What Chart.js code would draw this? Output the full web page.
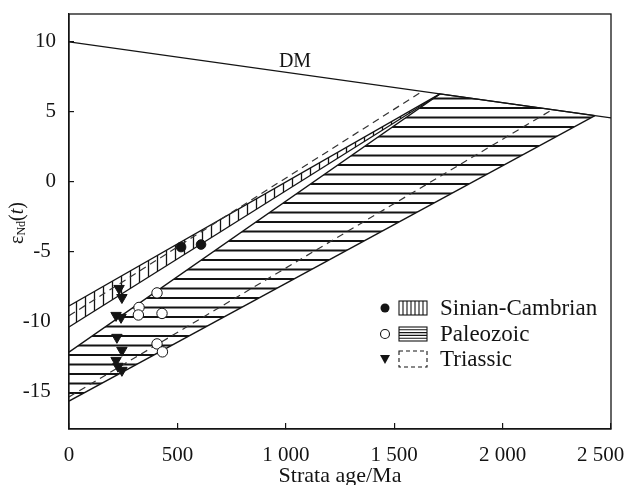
<!DOCTYPE html>
<html>
<head>
<meta charset="utf-8">
<script src="https://cdn.jsdelivr.net/npm/chart.js@4"></script>
<style>
  body { margin: 0; background: #fff; }
  canvas { display: block; }
</style>
</head>
<body>
<canvas id="ndChart" width="629" height="485"></canvas>
<script>
// Eixos (o último rótulo leva espaços para não sair da tela)
const xTicks = [0, 500, 1000, 1500, 2000, 2500];
const xTickLabels = ["0", "500", "1 000", "1 500", "2 000", "2 500    "];
const yTicks = [10, 5, 0, -5, -10, -15];
const yTickLabels = ["10", "5", "0", "-5 ", "-10 ", "-15 "];

// Linha DM
const dmAge = [0, 2500];
const dmEps = [10, 4.57];

// Faixa Sinian-Cambrian (hachura vertical)
const sinUpperAge = [0, 1711];
const sinUpperEps = [-8.9, 6.28];
const sinLowerAge = [0, 1711];
const sinLowerEps = [-10.4, 6.28];

// Faixa Paleozoic (hachura horizontal)
const paleoUpperAge = [0, 1711, 2426];
const paleoUpperEps = [-12.2, 6.28, 4.73];
const paleoLowerAge = [0, 2426];
const paleoLowerEps = [-15.7, 4.73];

// Limites Triassic (tracejado)
const triUpperAge = [0, 1629];
const triUpperEps = [-9.6, 6.46];
const triLowerAge = [0, 2230];
const triLowerEps = [-15.4, 5.16];

// Amostras
const sinPtAge = [517, 609];
const sinPtEps = [-4.68, -4.5];
const paleoPtAge = [406, 323, 320, 429, 406, 431];
const paleoPtEps = [-7.96, -9.0, -9.54, -9.43, -11.61, -12.18];
const triPtAge = [231, 244, 217, 240, 221, 244, 217, 226, 244];
const triPtEps = [-7.64, -8.29, -9.57, -9.71, -11.14, -12.07, -12.79, -13.21, -13.5];

const legendNames = ["Sinian-Cambrian", "Paleozoic", "Triassic"];

const FONT = "'Liberation Serif', 'Times New Roman', serif";
const INK = "#141414";

function pts(ages, eps) {
  return ages.map((a, i) => ({ x: a, y: eps[i] }));
}

// padrões de hachura
function hatch(vertical) {
  const c = document.createElement("canvas");
  const g = c.getContext("2d");
  if (vertical) {
    c.width = 9; c.height = 8;
    g.fillStyle = "#fff"; g.fillRect(0, 0, 9, 8);
    g.strokeStyle = INK; g.lineWidth = 1.3;
    g.beginPath(); g.moveTo(4.5, 0); g.lineTo(4.5, 8); g.stroke();
  } else {
    c.width = 8; c.height = 19;
    g.fillStyle = "#fff"; g.fillRect(0, 0, 8, 19);
    g.strokeStyle = INK; g.lineWidth = 1.9;
    g.beginPath();
    g.moveTo(0, 3.5); g.lineTo(8, 3.5);
    g.moveTo(0, 13); g.lineTo(8, 13);
    g.stroke();
  }
  return g.createPattern(c, "repeat");
}

const vPattern = hatch(true);
const hPattern = hatch(false);

function edge(data, extra) {
  return Object.assign({
    data: data,
    borderColor: INK,
    borderWidth: 1.3,
    pointRadius: 0,
    fill: false,
    tension: 0,
    order: 5
  }, extra || {});
}

// desenha legenda, rótulos e moldura
const decor = {
  id: "decor",
  afterDraw(chart) {
    const ctx = chart.ctx;
    const a = chart.chartArea;
    ctx.save();
    ctx.strokeStyle = INK;
    ctx.lineWidth = 1.3;
    ctx.strokeRect(a.left, a.top, a.right - a.left, a.bottom - a.top);

    ctx.fillStyle = INK;
    ctx.textBaseline = "middle";

    // rótulo DM
    ctx.font = "20px " + FONT;
    ctx.textAlign = "center";
    ctx.fillText("DM", 295, 62);

    // título eixo x
    ctx.font = "22px " + FONT;
    ctx.fillText("Strata age/Ma", (a.left + a.right) / 2, 476);

    // título eixo y: εNd(t)
    ctx.save();
    ctx.translate(18, 223);
    ctx.rotate(-Math.PI / 2);
    ctx.textAlign = "left";
    const big = "20px " + FONT, small = "12px " + FONT, ital = "italic 20px " + FONT;
    const parts = [["ε", big, 0], ["Nd", small, 4], ["(", big, 0], ["t", ital, 0], [")", big, 0]];
    let w = 0;
    parts.forEach(p => { ctx.font = p[1]; w += ctx.measureText(p[0]).width; });
    let x = -w / 2;
    parts.forEach(p => {
      ctx.font = p[1];
      ctx.fillText(p[0], x, p[2]);
      x += ctx.measureText(p[0]).width;
    });
    ctx.restore();

    // legenda
    const rows = [308, 334, 359];
    const mx = 385, bx = 399, bw = 28, bh = 14, tx = 440;
    ctx.font = "23px " + FONT;
    ctx.textAlign = "left";
    rows.forEach((y, i) => {
      ctx.fillStyle = INK;
      ctx.strokeStyle = INK;
      ctx.lineWidth = 1.1;
      ctx.setLineDash([]);
      if (i === 0) {
        ctx.beginPath(); ctx.arc(mx, y, 4.5, 0, Math.PI * 2); ctx.fill();
        ctx.strokeRect(bx, y - bh / 2, bw, bh);
        ctx.beginPath();
        for (let k = 1; k < 7; k++) {
          ctx.moveTo(bx + k * 4, y - bh / 2); ctx.lineTo(bx + k * 4, y + bh / 2);
        }
        ctx.stroke();
      } else if (i === 1) {
        ctx.fillStyle = "#fff";
        ctx.beginPath(); ctx.arc(mx, y, 4.5, 0, Math.PI * 2); ctx.fill(); ctx.stroke();
        ctx.strokeRect(bx, y - bh / 2, bw, bh);
        ctx.beginPath();
        for (let k = 1; k < 5; k++) {
          ctx.moveTo(bx, y - bh / 2 + k * 2.8); ctx.lineTo(bx + bw, y - bh / 2 + k * 2.8);
        }
        ctx.stroke();
      } else {
        ctx.beginPath();
        ctx.moveTo(mx - 5, y - 4); ctx.lineTo(mx + 5, y - 4); ctx.lineTo(mx, y + 5);
        ctx.closePath(); ctx.fill();
        ctx.setLineDash([4, 3]);
        ctx.strokeRect(bx, y - bh / 2 - 1, bw, bh + 2);
        ctx.setLineDash([]);
      }
      ctx.fillStyle = INK;
      ctx.fillText(legendNames[i], tx, y + 1);
    });
    ctx.restore();
  }
};

function noPad(s) {
  s.paddingLeft = 0; s.paddingRight = 0; s.paddingTop = 0; s.paddingBottom = 0;
}

new Chart("ndChart", {
  type: "line",
  data: {
    datasets: [
      edge(pts(paleoUpperAge, paleoUpperEps), { fill: "+1", backgroundColor: hPattern, order: 9 }),
      edge(pts(paleoLowerAge, paleoLowerEps), { order: 8 }),
      edge(pts(sinUpperAge, sinUpperEps), { fill: "+1", backgroundColor: vPattern, order: 7 }),
      edge(pts(sinLowerAge, sinLowerEps), { order: 6 }),
      edge(pts(triUpperAge, triUpperEps), { borderDash: [7, 5], borderWidth: 1.2, borderColor: "#333", order: 4 }),
      edge(pts(triLowerAge, triLowerEps), { borderDash: [7, 5], borderWidth: 1.2, borderColor: "#333", order: 4 }),
      edge(pts(dmAge, dmEps), { order: 3 }),
      {
        data: pts(sinPtAge, sinPtEps), showLine: false, order: 0,
        pointStyle: "circle", pointRadius: 4.8,
        pointBackgroundColor: INK, pointBorderColor: INK, pointBorderWidth: 1
      },
      {
        data: pts(paleoPtAge, paleoPtEps), showLine: false, order: 0,
        pointStyle: "circle", pointRadius: 5.2,
        pointBackgroundColor: "#fff", pointBorderColor: INK, pointBorderWidth: 1
      },
      {
        data: pts(triPtAge, triPtEps), showLine: false, order: 0,
        pointStyle: "triangle", pointRadius: 6, pointRotation: 180,
        pointBackgroundColor: INK, pointBorderColor: INK, pointBorderWidth: 1
      }
    ]
  },
  options: {
    responsive: false,
    animation: false,
    events: [],
    layout: { padding: { top: 14, right: 18, left: 0, bottom: 0 } },
    plugins: { legend: { display: false }, tooltip: { enabled: false } },
    scales: {
      x: {
        type: "linear",
        min: 0, max: 2500,
        afterBuildTicks: s => { s.ticks = xTicks.map(v => ({ value: v })); },
        afterFit: s => { s.height = 56; noPad(s); },
        grid: { display: true, drawOnChartArea: false, drawTicks: true, tickLength: -6, color: INK, lineWidth: 1.2 },
        border: { display: true, color: INK, width: 1.3 },
        ticks: {
          padding: 20,
          maxRotation: 0,
          autoSkip: false,
          color: INK,
          font: { family: FONT, size: 21 },
          callback: (v) => xTickLabels[xTicks.indexOf(v)]
        }
      },
      y: {
        type: "linear",
        min: -17.7, max: 12,
        afterBuildTicks: s => { s.ticks = yTicks.map(v => ({ value: v })); },
        afterFit: s => { s.width = 69; noPad(s); },
        grid: { display: true, drawOnChartArea: false, drawTicks: true, tickLength: -5, color: INK, lineWidth: 1.2 },
        border: { display: true, color: INK, width: 1.3 },
        ticks: {
          padding: 18,
          autoSkip: false,
          color: INK,
          font: { family: FONT, size: 21 },
          callback: (v) => yTickLabels[yTicks.indexOf(v)]
        }
      }
    }
  },
  plugins: [decor]
});
</script>
</body>
</html>
